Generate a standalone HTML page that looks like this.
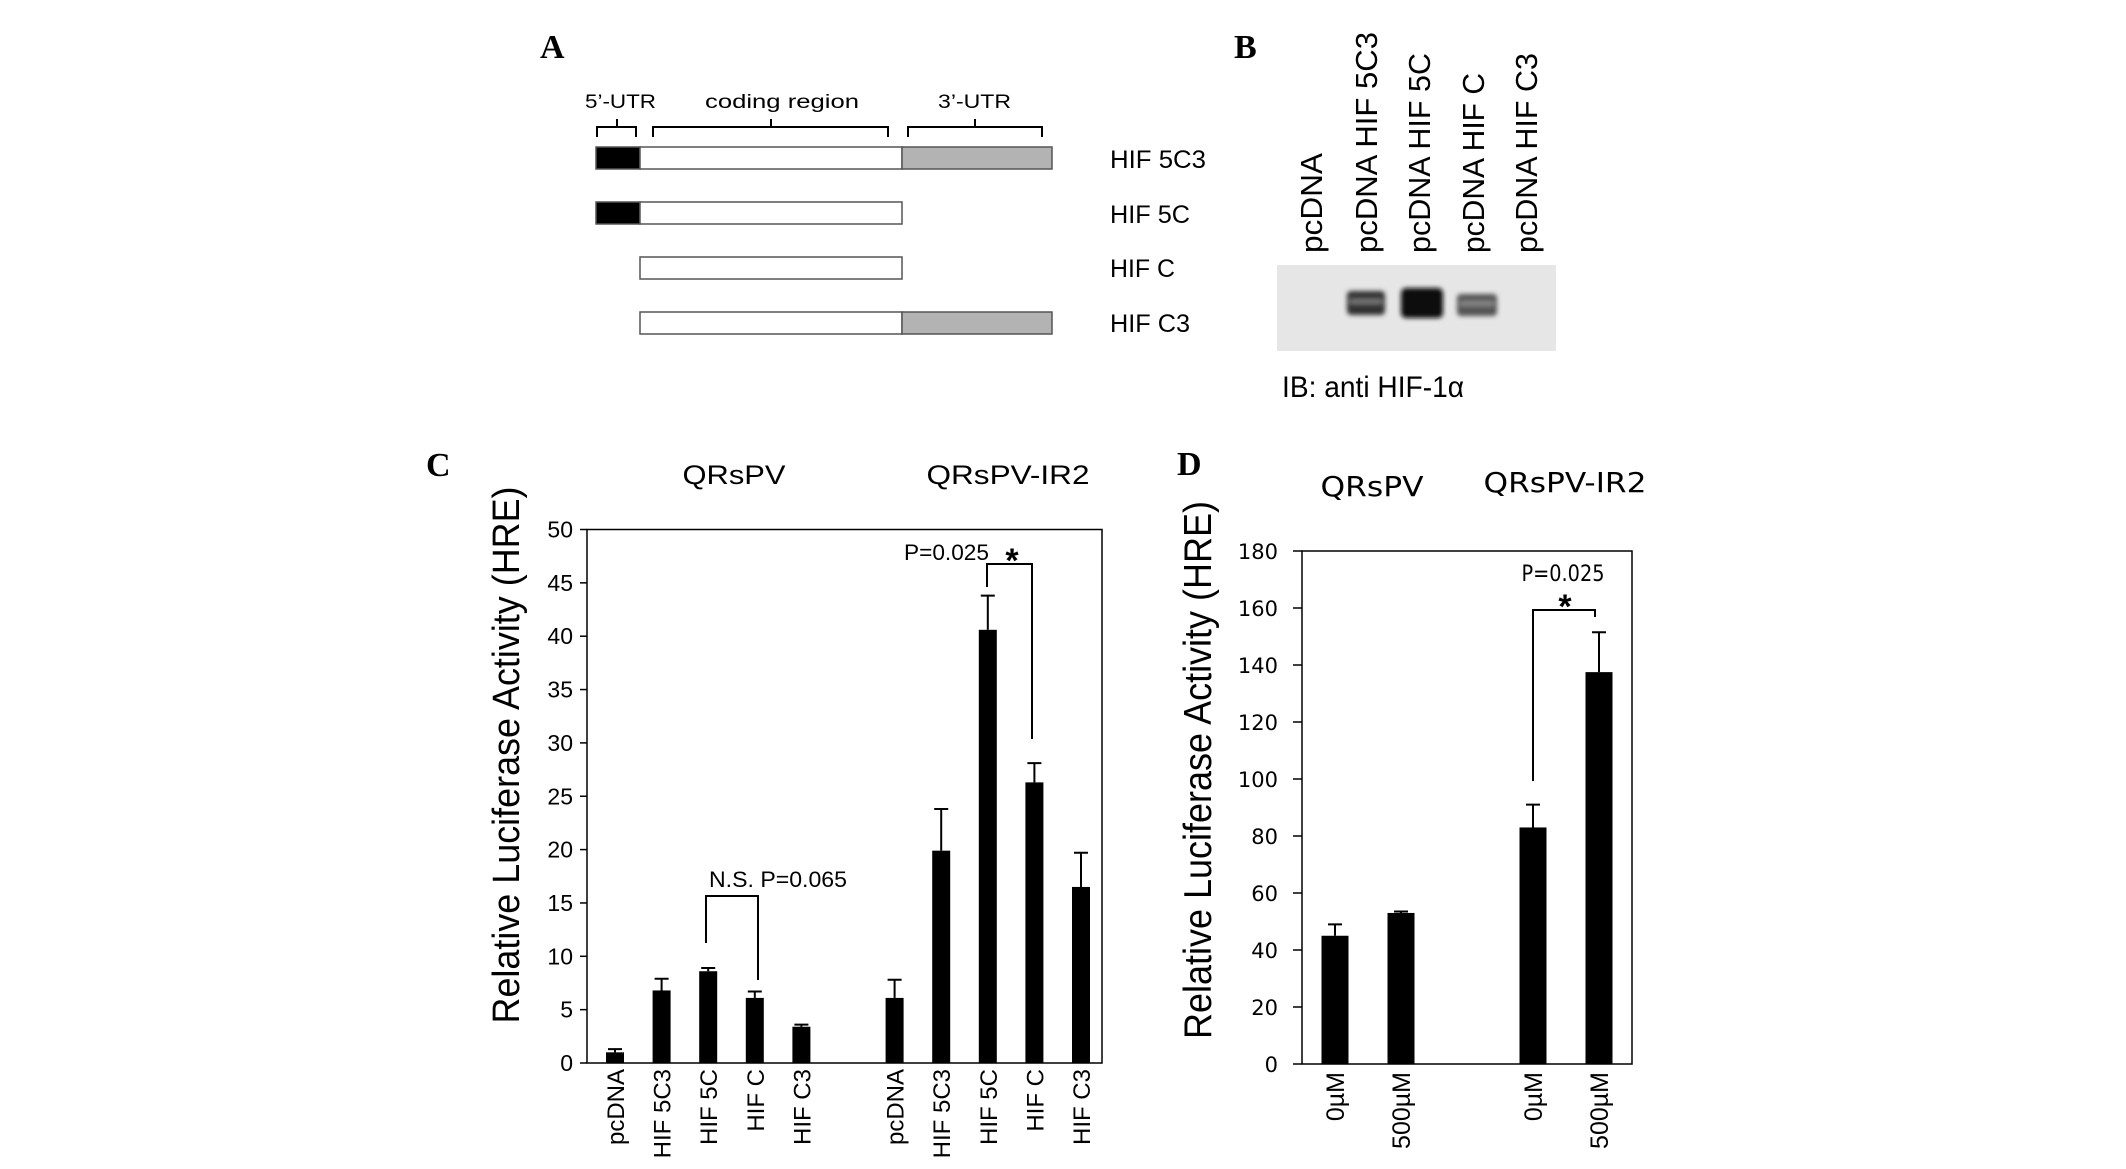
<!DOCTYPE html>
<html><head><meta charset="utf-8">
<style>
html,body{margin:0;padding:0;background:#fff;}
svg{display:block;}
text{font-family:"Liberation Sans",sans-serif;fill:#000;}
.serif{font-family:"Liberation Serif",serif;font-weight:bold;}
.dv{font-family:"DejaVu Sans","Liberation Sans",sans-serif;}
</style></head>
<body>
<svg id="fig" width="2126" height="1169" viewBox="0 0 2126 1169" xmlns="http://www.w3.org/2000/svg">
<rect x="0" y="0" width="2126" height="1169" fill="#fff"/>

<!-- Panel A -->
<g>
  <text class="serif" x="540" y="58" font-size="34">A</text>
  <text x="585" y="108" font-size="19" textLength="71" lengthAdjust="spacingAndGlyphs">5’-UTR</text>
  <text x="705" y="108" font-size="19" textLength="154" lengthAdjust="spacingAndGlyphs">coding region</text>
  <text x="938" y="108" font-size="19" textLength="73" lengthAdjust="spacingAndGlyphs">3’-UTR</text>
  <g fill="none" stroke="#000" stroke-width="2">
    <path d="M597 137 V127 H636 V137 M617 127 V119"/>
    <path d="M653 137 V127 H888 V137 M771 127 V119"/>
    <path d="M908 137 V127 H1042 V137 M975 127 V119"/>
  </g>
  <g stroke="#555" stroke-width="1.5">
    <rect x="596" y="147" width="44" height="22" fill="#000"/>
    <rect x="640" y="147" width="262" height="22" fill="#fff"/>
    <rect x="902" y="147" width="150" height="22" fill="#b3b3b3"/>
    <rect x="596" y="202" width="44" height="22" fill="#000"/>
    <rect x="640" y="202" width="262" height="22" fill="#fff"/>
    <rect x="640" y="257" width="262" height="22" fill="#fff"/>
    <rect x="640" y="312" width="262" height="22" fill="#fff"/>
    <rect x="902" y="312" width="150" height="22" fill="#b3b3b3"/>
  </g>
  <text x="1110" y="168" font-size="25" textLength="96" lengthAdjust="spacingAndGlyphs">HIF 5C3</text>
  <text x="1110" y="223" font-size="25" textLength="80" lengthAdjust="spacingAndGlyphs">HIF 5C</text>
  <text x="1110" y="277" font-size="25" textLength="65" lengthAdjust="spacingAndGlyphs">HIF C</text>
  <text x="1110" y="332" font-size="25" textLength="80" lengthAdjust="spacingAndGlyphs">HIF C3</text>
</g>

<!-- Panel B -->
<g>
  <text class="serif" x="1234" y="58" font-size="34">B</text>
  <g font-size="31">
    <text transform="translate(1322,253) rotate(-90)" textLength="100" lengthAdjust="spacingAndGlyphs">pcDNA</text>
    <text transform="translate(1377,253) rotate(-90)" textLength="221" lengthAdjust="spacingAndGlyphs">pcDNA HIF 5C3</text>
    <text transform="translate(1430,253) rotate(-90)" textLength="200" lengthAdjust="spacingAndGlyphs">pcDNA HIF 5C</text>
    <text transform="translate(1484,253) rotate(-90)" textLength="180" lengthAdjust="spacingAndGlyphs">pcDNA HIF C</text>
    <text transform="translate(1537,253) rotate(-90)" textLength="200" lengthAdjust="spacingAndGlyphs">pcDNA HIF C3</text>
  </g>
  <defs>
    <filter id="blur" x="-30%" y="-30%" width="160%" height="160%"><feGaussianBlur stdDeviation="2.5"/></filter>
  </defs>
  <rect x="1277" y="265" width="279" height="86" fill="#e6e6e6"/>
  <g filter="url(#blur)">
    <rect x="1347" y="291" width="38" height="24" rx="4" fill="#333"/>
    <rect x="1350" y="299" width="32" height="5" fill="#777"/>
    <rect x="1401" y="288" width="42" height="30" rx="5" fill="#0a0a0a"/>
    <rect x="1457" y="294" width="40" height="22" rx="4" fill="#555"/>
    <rect x="1460" y="301" width="34" height="5" fill="#888"/>
  </g>
  <text x="1282" y="397" font-size="30" textLength="182" lengthAdjust="spacingAndGlyphs">IB: anti HIF-1α</text>
</g>

<!-- Panel C -->
<g id="panelC">
  <text class="serif" x="426" y="476" font-size="34">C</text>
  <text x="734" y="484" font-size="27" text-anchor="middle" textLength="103" lengthAdjust="spacingAndGlyphs">QRsPV</text>
  <text x="1008" y="484" font-size="27" text-anchor="middle" textLength="163" lengthAdjust="spacingAndGlyphs">QRsPV-IR2</text>
  <text transform="translate(519,755) rotate(-90)" font-size="38" text-anchor="middle" textLength="537" lengthAdjust="spacingAndGlyphs">Relative Luciferase Activity (HRE)</text>
  <rect x="587" y="529.5" width="515" height="533.5" fill="none" stroke="#000" stroke-width="1.5"/>
  <g id="cTicks"></g>
  <g id="cBars"></g>
  <g id="cLabels"></g>
  <g fill="none" stroke="#000" stroke-width="2">
    <path d="M706 943 V896 H758 V980"/>
    <path d="M987 587 V564 H1032 V739"/>
  </g>
  <text x="709" y="887" font-size="22" textLength="138" lengthAdjust="spacingAndGlyphs">N.S.  P=0.065</text>
  <text x="904" y="560" font-size="22" textLength="85" lengthAdjust="spacingAndGlyphs">P=0.025</text>
  <text x="1012" y="572" font-size="34" font-weight="bold" text-anchor="middle">*</text>
</g>

<!-- Panel D -->
<g id="panelD">
  <text class="serif" x="1177" y="475" font-size="34">D</text>
  <text class="dv" x="1372" y="496" font-size="28" text-anchor="middle" textLength="103" lengthAdjust="spacingAndGlyphs">QRsPV</text>
  <text class="dv" x="1565" y="492" font-size="28" text-anchor="middle" textLength="163" lengthAdjust="spacingAndGlyphs">QRsPV-IR2</text>
  <text transform="translate(1211,770) rotate(-90)" font-size="39" text-anchor="middle" textLength="538" lengthAdjust="spacingAndGlyphs">Relative Luciferase Activity (HRE)</text>
  <rect x="1302" y="551" width="330" height="513" fill="none" stroke="#000" stroke-width="1.5"/>
  <g id="dTicks"></g>
  <g id="dBars"></g>
  <g id="dLabels"></g>
  <path d="M1533 781 V610 H1595 V617" fill="none" stroke="#000" stroke-width="2"/>
  <text class="dv" x="1563" y="581" font-size="22" text-anchor="middle" textLength="83" lengthAdjust="spacingAndGlyphs">P=0.025</text>
  <text x="1565" y="618" font-size="34" font-weight="bold" text-anchor="middle">*</text>
</g>
</svg>

<script>
// ---- Panel C data ----
const cCategories = ["pcDNA","HIF 5C3","HIF 5C","HIF C","HIF C3","pcDNA","HIF 5C3","HIF 5C","HIF C","HIF C3"];
const cValues = [1.0, 6.8, 8.6, 6.1, 3.4, 6.1, 19.9, 40.6, 26.3, 16.5];
const cErrors = [0.3, 1.1, 0.3, 0.6, 0.2, 1.7, 3.9, 3.2, 1.8, 3.2];
const cTickLabels = ["0","5","10","15","20","25","30","35","40","45","50"];
const cTickValues = [0,5,10,15,20,25,30,35,40,45,50];

// ---- Panel D data ----
const dCategories = ["0µM","500µM","0µM","500µM"];
const dValues = [45, 53, 83, 137.5];
const dErrors = [4, 0.5, 8, 14];
const dTickLabels = ["0","20","40","60","80","100","120","140","160","180"];
const dTickValues = [0,20,40,60,80,100,120,140,160,180];

const NS = "http://www.w3.org/2000/svg";
function mk(tag, attrs, parent){
  const e = document.createElementNS(NS, tag);
  for (const k in attrs) e.setAttribute(k, attrs[k]);
  parent.appendChild(e);
  return e;
}

// axis functions
function yC(v){ return 1063 - v * (533.5 / 50); }
function xC(i){ const slot = i < 5 ? i : i + 1; return 615 + slot * 46.6; }
function yD(v){ return 1064 - v * (513 / 180); }
function xD(i){ const slot = i < 2 ? i : i + 1; return 1335 + slot * 66; }

// Panel C ticks
const cT = document.getElementById('cTicks');
cTickValues.forEach((v, i) => {
  const l = mk('line', {x1:580, x2:587, y1:yC(v), y2:yC(v), stroke:'#000', 'stroke-width':1.5}, cT);
  
  
  const t = mk('text', {x:573, y:yC(v)+8, 'font-size':23, 'text-anchor':'end'}, cT);
  t.textContent = cTickLabels[i];
  
  
});
// Panel C bars
const cB = document.getElementById('cBars');
const cL = document.getElementById('cLabels');
cValues.forEach((v, i) => {
  const cx = xC(i), w = 18;
  const r = mk('rect', {x:cx-w/2, y:yC(v), width:w, height:yC(0)-yC(v), fill:'#000'}, cB);
  
  
  const top = yC(v + cErrors[i]);
  const eb = mk('path', {d:`M${cx} ${yC(v)} V${top} M${cx-7} ${top} H${cx+7}`, stroke:'#000', 'stroke-width':2, fill:'none'}, cB);
  
  
  const t = mk('text', {transform:`translate(${cx+9},1069) rotate(-90)`, 'font-size':24, 'text-anchor':'end'}, cL);
  t.textContent = cCategories[i];
  
  
});

// Panel D ticks
const dT = document.getElementById('dTicks');
dTickValues.forEach((v, i) => {
  const l = mk('line', {x1:1293, x2:1302, y1:yD(v), y2:yD(v), stroke:'#000', 'stroke-width':1.5}, dT);
  
  
  const t = mk('text', {x:1278, y:yD(v)+8, 'font-size':21, 'text-anchor':'end', 'class':'dv'}, dT);
  t.textContent = dTickLabels[i];
  
  
});
// Panel D bars
const dB = document.getElementById('dBars');
const dL = document.getElementById('dLabels');
dValues.forEach((v, i) => {
  const cx = xD(i), w = 27;
  const r = mk('rect', {x:cx-w/2, y:yD(v), width:w, height:yD(0)-yD(v), fill:'#000'}, dB);
  
  
  const top = yD(v + dErrors[i]);
  const eb = mk('path', {d:`M${cx} ${yD(v)} V${top} M${cx-7} ${top} H${cx+7}`, stroke:'#000', 'stroke-width':2, fill:'none'}, dB);
  
  
  const t = mk('text', {transform:`translate(${cx+9},1072) rotate(-90)`, 'font-size':25, 'text-anchor':'end'}, dL);
  t.textContent = dCategories[i];
  
  
});
</script>
</body></html>
